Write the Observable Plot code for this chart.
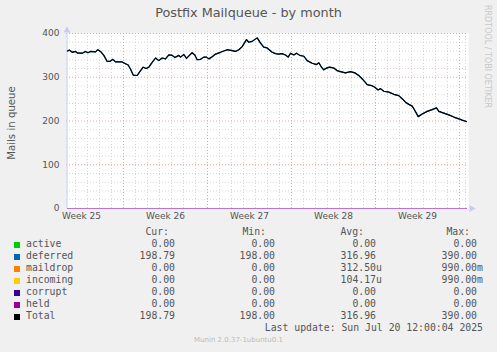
<!DOCTYPE html>
<html>
<head>
<meta charset="utf-8">
<script src="https://cdn.jsdelivr.net/npm/d3@7"></script>
<script src="https://cdn.jsdelivr.net/npm/@observablehq/plot@0.6"></script>
<style>
  body { margin: 0; background: #f0f0f0; }
  #wrap { position: relative; width: 497px; height: 352px; overflow: hidden; background: #f0f0f0; }
  #chart { position: absolute; left: 0; top: 0; }
  .abs { position: absolute; white-space: pre; }
  .mono { font-family: "DejaVu Sans Mono", monospace; font-size: 9.8px; color: #555; line-height: 12px; }
</style>
</head>
<body>
<div id="wrap"><div id="chart"></div></div>
<script>
// ---- data (x in days from the left edge of the graph) ----
const days = [0.08,0.25,0.48,0.75,0.94,1.31,1.58,1.78,2.00,2.42,2.61,2.83,3.11,3.39,3.67,3.86,4.08,4.64,4.92,5.14,5.33,5.56,5.89,6.11,6.39,6.64,6.86,7.14,7.42,7.69,7.97,8.25,8.53,8.81,9.03,9.36,9.50,9.78,10.00,10.28,10.47,10.69,10.89,11.17,11.44,11.67,11.86,12.14,12.42,12.83,13.39,13.81,14.08,14.36,14.64,15.00,15.19,15.47,15.89,16.17,16.44,16.72,17.14,17.42,17.69,17.97,18.25,18.47,18.67,18.94,19.17,19.44,19.78,20.06,20.47,20.83,21.03,21.25,21.44,21.67,21.94,22.28,22.56,22.83,23.25,23.67,24.03,24.36,24.72,25.06,25.42,25.69,25.97,26.17,26.44,26.86,27.28,27.69,27.97,28.25,28.53,28.81,29.03,29.31,29.64,30.06,30.47,30.83,31.03,31.44,31.86,32.28,32.69,32.97,33.33];
const total = [360,362,357,359,355,355,359,356,359,358,363,359,350,336,337,341,335,335,331,328,319,305,304,313,323,320,323,334,344,338,344,342,351,350,345,350,346,352,343,351,356,351,340,341,346,346,342,347,353,357,363,361,359,363,370,386,380,382,390,378,369,367,357,354,353,354,351,346,355,351,355,350,348,338,332,329,333,323,317,321,323,321,315,313,310,313,310,304,294,283,281,277,271,274,268,266,261,258,251,243,238,234,224,210,216,222,226,230,222,218,214,209,205,202,198.79];
const deferred = total; // deferred equals Total over the whole period
const zeroSeries = [0, 0]; // active, maildrop, incoming, corrupt, held
const zeroDays = [0.08, 33.33];

const weekStarts = [4.75, 11.75, 18.75, 25.75, 32.75];
const weekCenters = [1.25, 8.25, 15.25, 22.25, 29.25];
const weekLabels = ["Week 25", "Week 26", "Week 27", "Week 28", "Week 29"];
const dayLines = [0.75,1.75,2.75,3.75,5.75,6.75,7.75,8.75,9.75,10.75,12.75,13.75,14.75,15.75,16.75,17.75,19.75,20.75,21.75,22.75,23.75,24.75,26.75,27.75,28.75,29.75,30.75,31.75,33.25];
const yMajor = [0, 100, 200, 300, 400];
const yMinor = [20,40,60,80,120,140,160,180,220,240,260,280,320,340,360,380];

const legendNames = ["active","deferred","maildrop","incoming","corrupt","held","Total"];
const legendColors = ["#00cc00","#0066b3","#ff8000","#ffcc00","#330099","#990099","#000000"];
const curVals = ["0.00","198.79","0.00","0.00","0.00","0.00","198.79"];
const minVals = ["0.00","198.00","0.00","0.00","0.00","0.00","198.00"];
const avgVals = ["0.00","316.96","312.50u","104.17u","0.00","0.00","316.96"];
const maxVals = ["0.00","390.00","990.00m","990.00m","0.00","0.00","390.00"];

// ---- chart ----
const minorC = "#d6d6d6", majorC = "#eea0a0", axisC = "#c6ccf6";
const series = (vals, color, w) => Plot.line(vals.map((v, i) => ({d: (vals === zeroSeries ? zeroDays : days)[i], v})), {x: "d", y: "v", stroke: color, strokeWidth: w});

const chart = Plot.plot({
  width: 497, height: 230,
  marginLeft: 66, marginRight: 29, marginTop: 33, marginBottom: 22,
  style: {background: "transparent", fontFamily: "DejaVu Sans", fontSize: "9px", color: "#555"},
  x: {domain: [0, 33.5]},
  y: {domain: [0, 400]},
  marks: [
    Plot.frame({fill: "white", stroke: "none"}),
    Plot.ruleX(dayLines, {stroke: minorC, strokeDasharray: "1,2"}),
    Plot.ruleY(yMinor, {stroke: minorC, strokeDasharray: "1,2"}),
    Plot.ruleX(weekStarts, {stroke: majorC, strokeDasharray: "1,2"}),
    Plot.ruleY(yMajor.slice(1), {stroke: majorC, strokeDasharray: "1,2"}),
    Plot.axisY({ticks: yMajor, tickSize: 0, tickPadding: 7, label: null, fontSize: 9}),
    Plot.axisX({ticks: weekCenters, tickFormat: (d, i) => weekLabels[i], tickSize: 0, tickPadding: 4, label: null, fontSize: 9}),
    Plot.ruleX([0], {stroke: axisC, y1: 0, y2: 400, dx: 0.5}),
    Plot.dot([0], {x: 0, y: 400, symbol: "triangle", r: 2.6, fill: axisC, stroke: "none", dy: -3, dx: 0.5}),
    Plot.dot([0], {x: 33.5, y: 0, symbol: "triangle", r: 2.6, fill: axisC, stroke: "none", rotate: 90, dx: 3}),
    series(zeroSeries, "#00cc00", 1),
    series(zeroSeries, "#ff8000", 1),
    series(zeroSeries, "#ffcc00", 1),
    series(zeroSeries, "#330099", 1),
    series(zeroSeries, "#b875d8", 1.2),
    series(deferred, "#0066b3", 1.2),
    series(total, "#000000", 1.2)
  ]
});
document.getElementById("chart").appendChild(chart);

// ---- texts / legend ----
const wrap = document.getElementById("wrap");
function add(text, css, cls) {
  const el = document.createElement("div");
  el.className = "abs " + (cls || "");
  el.textContent = text;
  el.style.cssText += css;
  wrap.appendChild(el);
  return el;
}
add("Postfix Mailqueue - by month", "left:0;width:497px;text-align:center;top:5px;font-family:'DejaVu Sans';font-size:12.8px;color:#555;");
add("RRDTOOL / TOBI OETIKER", "left:483px;top:5px;writing-mode:vertical-rl;font-family:'DejaVu Sans';font-size:8px;color:#c8c8c8;");
add("Mails in queue", "left:11px;top:123px;transform:translate(-50%,-50%) rotate(-90deg);font-family:'DejaVu Sans';font-size:10.2px;color:#555;");

const rowY = 232;
[["Cur:", 169], ["Min:", 266], ["Avg:", 364], ["Max:", 470]].forEach(([t, r]) =>
  add(t, `right:${497 - r}px;top:${rowY - 6}px;text-align:right;`, "mono"));

function valueCell(str, right, y) {
  const m = str.match(/^([\d.]+)([a-zA-Z]?)$/);
  const el = add(m[1], `right:${497 - right}px;top:${y - 6}px;text-align:right;`, "mono");
  if (m[2]) {
    const s = document.createElement("span");
    s.textContent = m[2];
    s.style.cssText = "position:absolute;left:100%;top:0;";
    el.appendChild(s);
  }
}
legendNames.forEach((name, i) => {
  const y = 244 + i * 12;
  const sq = document.createElement("div");
  sq.style.cssText = `position:absolute;left:14px;top:${y - 2}px;width:6px;height:6px;background:${legendColors[i]};`;
  wrap.appendChild(sq);
  add(name, `left:26px;top:${y - 6}px;`, "mono");
  valueCell(curVals[i], 175, y);
  valueCell(minVals[i], 275, y);
  valueCell(avgVals[i], 376, y);
  valueCell(maxVals[i], 477, y);
});
add("Last update: Sun Jul 20 12:00:04 2025", `right:${497 - 483}px;top:${328 - 6}px;text-align:right;`, "mono");
add("Munin 2.0.37-1ubuntu0.1", "left:0;width:477px;text-align:center;top:336px;font-family:'DejaVu Sans';font-size:7px;color:#bbb;");
</script>
</body>
</html>
